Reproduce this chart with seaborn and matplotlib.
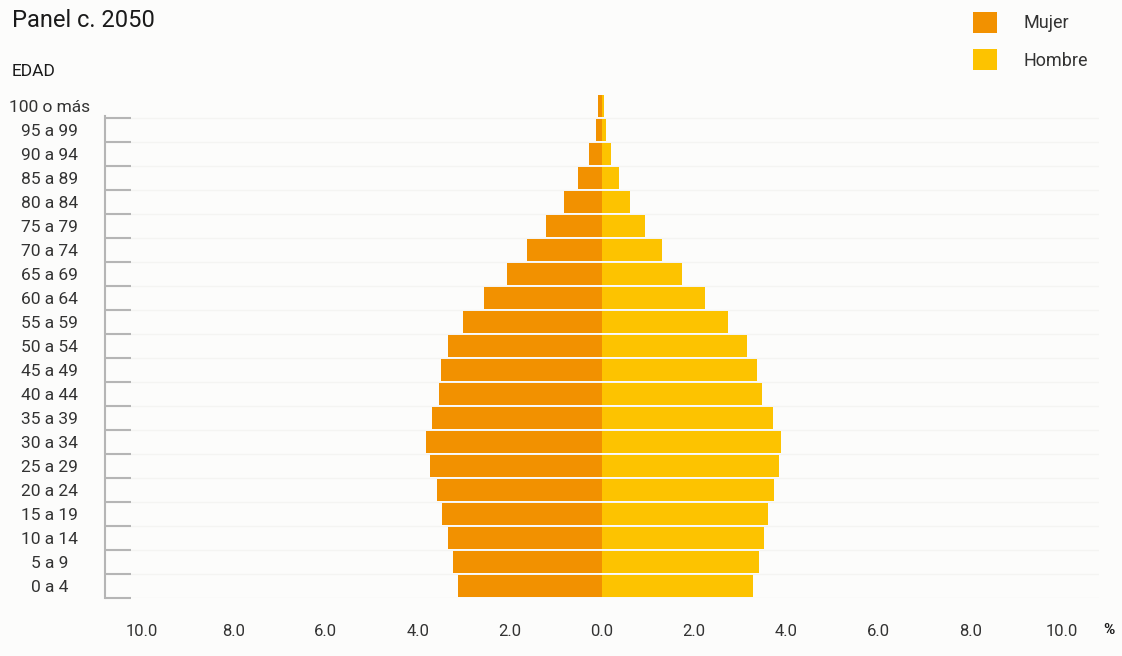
import numpy as np
import matplotlib.pyplot as plt
import matplotlib.ticker as mticker
import seaborn as sns

# grupos de edad, de arriba hacia abajo
edades = ['100 o más', '95 a 99', '90 a 94', '85 a 89', '80 a 84', '75 a 79',
          '70 a 74', '65 a 69', '60 a 64', '55 a 59', '50 a 54', '45 a 49',
          '40 a 44', '35 a 39', '30 a 34', '25 a 29', '20 a 24', '15 a 19',
          '10 a 14', '5 a 9', '0 a 4']
mujer = [0.09, 0.13, 0.28, 0.52, 0.83, 1.22, 1.63, 2.07, 2.57, 3.02, 3.35,
         3.50, 3.54, 3.70, 3.83, 3.74, 3.59, 3.48, 3.35, 3.24, 3.13]
hombre = [0.04, 0.09, 0.20, 0.37, 0.61, 0.93, 1.30, 1.74, 2.24, 2.74, 3.15,
          3.37, 3.48, 3.72, 3.89, 3.85, 3.74, 3.61, 3.52, 3.41, 3.28]
xticks = [-10, -8, -6, -4, -2, 0, 2, 4, 6, 8, 10]

sns.set_style('white')
plt.rcParams['font.family'] = ['Roboto', 'DejaVu Sans']
bg = '#fcfcfb'
txt = '#333333'

fig = plt.figure(figsize=(11.22, 6.56), dpi=100, facecolor=bg)
ax = fig.add_axes([105 / 1122, 58 / 656, 994 / 1122, 504 / 656], facecolor=bg)

sns.barplot(x=[-v for v in mujer], y=edades, order=edades, color='#f29100',
            saturation=1, width=0.95, linewidth=0, label='Mujer', ax=ax)
sns.barplot(x=hombre, y=edades, order=edades, color='#fdc300',
            saturation=1, width=0.95, linewidth=0, label='Hombre', ax=ax)

ax.set_xlim(-10.8, 10.8)
ax.set_ylim(20.5, -0.5)
ax.set_xlabel('')
ax.set_ylabel('')

ax.set_xticks(xticks)
ax.xaxis.set_major_formatter(mticker.FuncFormatter(lambda v, p: f'{abs(v):.1f}'))
ax.tick_params(axis='x', length=0, pad=19, labelsize=12, labelcolor=txt)

ax.set_yticks(range(len(edades)))
ax.set_yticklabels(edades, ha='center')
ax.tick_params(axis='y', which='major', left=True, length=0, pad=40,
               labelsize=12.5, labelcolor=txt)
ax.set_yticks(np.arange(0.5, len(edades), 1), minor=True)
ax.tick_params(axis='y', which='minor', left=True, direction='in', length=18.7,
               width=1.5, color='#b5b5b5')
ax.grid(axis='y', which='minor', color='#f4f4f2', lw=1)
ax.set_axisbelow(True)

for s in ['top', 'right', 'bottom']:
    ax.spines[s].set_visible(False)
ax.spines['left'].set_bounds(0.4, 20.5)
ax.spines['left'].set_color('#b5b5b5')
ax.spines['left'].set_linewidth(1.5)

ax.legend(loc='upper left', bbox_to_anchor=(973 / 1122, 1 - 12 / 656),
          bbox_transform=fig.transFigure, frameon=False, borderpad=0,
          borderaxespad=0, handlelength=1.33, handleheight=1.4,
          handletextpad=1.45, labelspacing=0.9, fontsize=13, labelcolor=txt)

fig.text(12 / 1122, 1 - 27 / 656, 'Panel c. 2050', fontsize=17, color='#1a1a1a',
         va='baseline', ha='left')
fig.text(12 / 1122, 1 - 76 / 656, 'EDAD', fontsize=12.5, color='#1a1a1a',
         va='baseline', ha='left')
fig.text(1109 / 1122, 1 - 630 / 656, '%', fontsize=11, fontweight='bold',
         color='#1a1a1a', va='center', ha='center')

plt.savefig('out.png', dpi=100, facecolor=bg)
